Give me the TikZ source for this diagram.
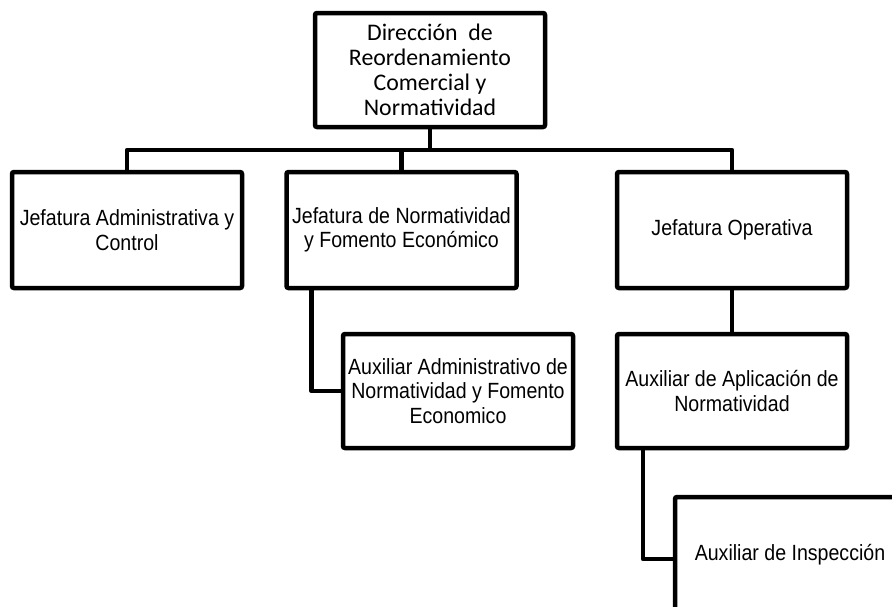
\documentclass[tikz,border=0pt]{standalone}
\usepackage{fontspec}
\setmainfont[FakeStretch=0.89]{Liberation Sans}
\newfontfamily\calib{Carlito}
\begin{document}
\begin{tikzpicture}[x=1pt,y=-1pt,
  box/.style={draw=black,line width=4.5pt,rounded corners=2pt,fill=white,
    minimum width=230pt,align=center,inner sep=0pt,
    font=\fontsize{22}{24.5}\selectfont},
  link/.style={draw=black,line width=4.5pt,line join=round}]
\useasboundingbox (0,0) rectangle (892,606);
\clip (0,0) rectangle (892,606);
\coordinate (bus) at (0,150);
% nodes
\node[box,minimum height=114pt,font=\calib\fontsize{23.8}{25}\selectfont] (dir) at (430,70)
  {Dirección\ \ de\\Reordenamiento\\Comercial y\\Normatividad};
\node[box,minimum height=116pt] (adm) at (127,230) {Jefatura Administrativa y\\Control};
\node[box,minimum height=116pt] (nor) at (401.5,230) {Jefatura de Normatividad\\y Fomento Económico};
\node[box,minimum height=116pt] (ope) at (732,230) {Jefatura Operativa};
\node[box,minimum height=114pt] (auxn) at (458,391) {Auxiliar Administrativo de\\Normatividad y Fomento\\Economico};
\node[box,minimum height=114pt] (apl) at (732,391) {Auxiliar de Aplicación de\\Normatividad};
\node[box,minimum height=116pt] (ins) at (790,555) {Auxiliar de Inspección};
% connectors
\draw[link] (dir.south) -- (dir.south |- bus);
\draw[link] (adm.north) -- (adm.north |- bus) -- (ope.north |- bus) -- (ope.north);
\draw[link] (nor.north) -- (nor.north |- bus);
\coordinate (n1) at ([xshift=-90pt]nor.south);
\draw[link] (n1) |- (auxn.west);
\draw[link] (ope.south) -- (apl.north);
\coordinate (a1) at ([xshift=-89pt]apl.south);
\draw[link] (a1) |- ([yshift=-4pt]ins.west);
\end{tikzpicture}
\end{document}
